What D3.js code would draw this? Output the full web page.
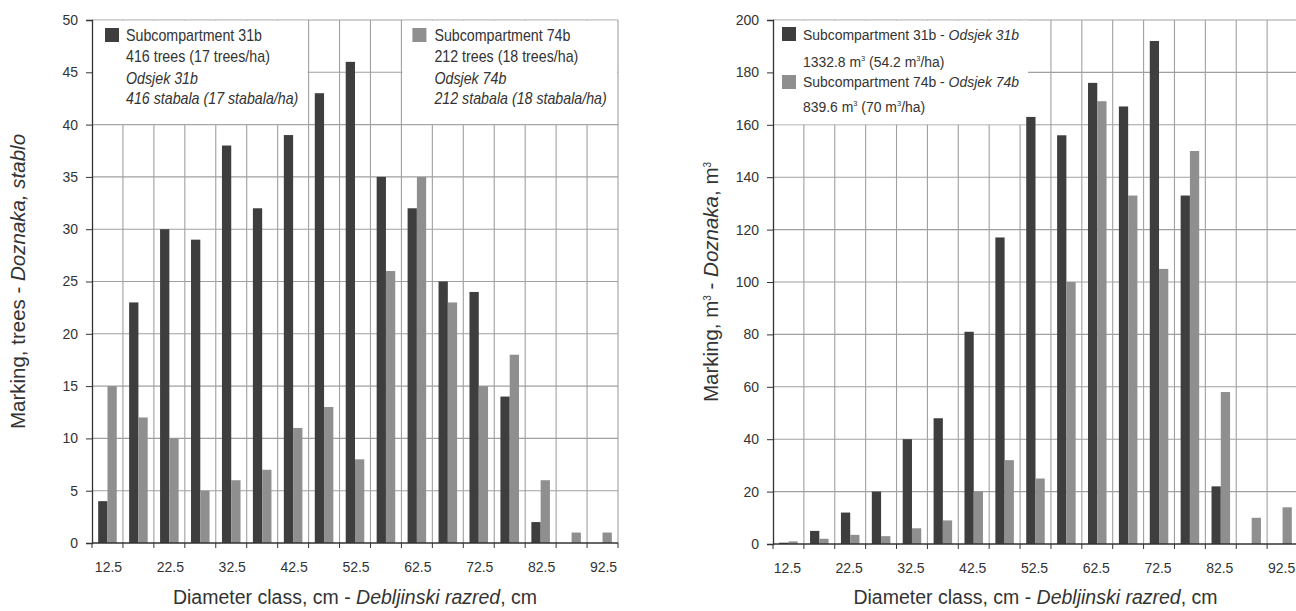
<!DOCTYPE html>
<html>
<head>
<meta charset="utf-8">
<script src="https://cdn.jsdelivr.net/npm/d3@7"></script>
<style>
  body { margin: 0; background: #fff; }
  text { font-family: "Liberation Sans", Arial, sans-serif; fill: #333; }
</style>
</head>
<body>
<div id="chart"></div>
<script>
// diameter classes (cm)
var classes = ["12.5","17.5","22.5","27.5","32.5","37.5","42.5","47.5","52.5","57.5","62.5","67.5","72.5","77.5","82.5","87.5","92.5"];
var series = ["31b", "74b"];

// number of trees marked
var trees31b = [4, 23, 30, 29, 38, 32, 39, 43, 46, 35, 32, 25, 24, 14, 2, 0, 0];
var trees74b = [15, 12, 10, 5, 6, 7, 11, 13, 8, 26, 35, 23, 15, 18, 6, 1, 1];

// volume marked (m3)
var vol31b = [0.5, 5, 12, 20, 40, 48, 81, 117, 163, 156, 176, 167, 192, 133, 22, 0, 0];
var vol74b = [1, 2, 3.5, 3, 6, 9, 20, 32, 25, 100, 169, 133, 105, 150, 58, 10, 14];

var treeTicks = [0, 5, 10, 15, 20, 25, 30, 35, 40, 45, 50];
var volTicks = [0, 20, 40, 60, 80, 100, 120, 140, 160, 180, 200];

var colors = { "31b": "#3e3e3e", "74b": "#8f8f8f" };

var width = 1296, height = 611;

var svg = d3.select("#chart").append("svg")
    .attr("width", width)
    .attr("height", height);

function drawPanel(opt) {
  var x0 = d3.scaleBand().domain(classes).range([opt.left, opt.right]);
  var x1 = d3.scaleBand().domain(series)
      .range([x0.bandwidth() * 0.2, x0.bandwidth() * 0.8]);
  var y = d3.scaleLinear().domain([0, opt.max]).range([opt.bottom, opt.top]);
  var step = x0.step();
  var bounds = d3.range(classes.length + 1).map(function(i) { return opt.left + i * step; });

  var g = svg.append("g");

  // grid
  g.selectAll("line.hgrid").data(opt.ticks.slice(1)).enter().append("line")
      .attr("class", "hgrid")
      .attr("x1", opt.left).attr("x2", opt.right)
      .attr("y1", function(d) { return y(d); }).attr("y2", function(d) { return y(d); })
      .attr("stroke", "#a0a0a0").attr("stroke-width", 1.1);
  g.selectAll("line.vgrid").data(bounds.slice(1)).enter().append("line")
      .attr("class", "vgrid")
      .attr("x1", function(d) { return d; }).attr("x2", function(d) { return d; })
      .attr("y1", opt.top).attr("y2", opt.bottom)
      .attr("stroke", "#a0a0a0").attr("stroke-width", 1.1);

  // legend boxes hide the grid behind them
  opt.legends.forEach(function(lg) {
    var lx = lg.from != null ? bounds[lg.from] + 1 : lg.x;
    var rx = lg.to != null ? bounds[lg.to] - 1 : lg.x2;
    g.append("rect")
        .attr("x", lx).attr("y", opt.top + 0.7)
        .attr("width", rx - lx).attr("height", y(lg.downTo) - opt.top - 1.2)
        .attr("fill", "#fff");
    lg.x0 = lx;
  });

  // bars
  var groups = g.selectAll("g.cls").data(classes).enter().append("g")
      .attr("transform", function(d) { return "translate(" + x0(d) + ",0)"; });
  groups.selectAll("rect").data(function(d, i) {
      return series.map(function(s) { return { s: s, v: opt.values[s][i] }; });
    }).enter().append("rect")
      .attr("x", function(d) { return x1(d.s); })
      .attr("width", x1.bandwidth())
      .attr("y", function(d) { return y(d.v); })
      .attr("height", function(d) { return opt.bottom - y(d.v); })
      .attr("fill", function(d) { return colors[d.s]; });

  // y axis
  var yAxis = d3.axisLeft(y).tickValues(opt.ticks).tickSize(6).tickPadding(8);
  var ya = g.append("g").attr("transform", "translate(" + opt.left + ",0)").call(yAxis);
  ya.select(".domain").attr("stroke", "#333").attr("stroke-width", 1.3);
  ya.selectAll(".tick line").attr("stroke", "#333");
  ya.selectAll("text").style("font-size", "14px").attr("fill", "#333")
      .style("font-family", "'Liberation Sans', Arial, sans-serif");

  // x axis
  g.append("line")
      .attr("x1", opt.left).attr("x2", opt.right)
      .attr("y1", opt.bottom).attr("y2", opt.bottom)
      .attr("stroke", "#333").attr("stroke-width", 1.3);
  g.selectAll("line.xtick").data(bounds).enter().append("line")
      .attr("x1", function(d) { return d; }).attr("x2", function(d) { return d; })
      .attr("y1", opt.bottom).attr("y2", opt.bottom + 5)
      .attr("stroke", "#333");
  g.selectAll("text.xlab").data(classes.filter(function(d, i) { return i % 2 === 0; }))
      .enter().append("text")
      .attr("x", function(d) { return x0(d) + step / 2 + opt.labelShift; })
      .attr("y", opt.bottom + 29)
      .attr("text-anchor", "middle")
      .style("font-size", "14px")
      .text(function(d) { return d; });

  // axis titles
  var xt = g.append("text")
      .attr("x", (opt.left + opt.right) / 2)
      .attr("y", 604)
      .attr("text-anchor", "middle")
      .style("font-size", "19.5px");
  xt.append("tspan").text("Diameter class, cm - ");
  xt.append("tspan").style("font-style", "italic").text("Debljinski razred");
  xt.append("tspan").text(", cm");

  var yt = g.append("text")
      .attr("transform", "translate(" + opt.ytitleX + "," + (opt.top + opt.bottom) / 2 + ") rotate(-90)")
      .attr("text-anchor", "middle")
      .style("font-size", "20.5px");
  opt.ytitle(yt);

  // legend entries
  opt.legends.forEach(function(lg) {
    lg.items.forEach(function(it) {
      g.append("rect")
          .attr("x", lg.x0 + lg.sw).attr("y", it.sy)
          .attr("width", 14).attr("height", 14)
          .attr("fill", colors[it.s]);
    });
    lg.lines.forEach(function(ln) {
      var t = g.append("text")
          .attr("transform", "translate(" + (lg.x0 + lg.tx) + "," + ln.y + ") scale(" + lg.sx + ",1)")
          .style("font-size", lg.fs + "px");
      ln.parts.forEach(function(p) {
        var ts = t.append("tspan").text(p.t);
        if (p.i) ts.style("font-style", "italic");
        if (p.sup) ts.attr("dy", -6).style("font-size", "8px");
        if (p.after) ts.attr("dy", 6);
      });
    });
  });
}

drawPanel({
  left: 92, right: 618, top: 20, bottom: 543, max: 50,
  ticks: treeTicks,
  values: { "31b": trees31b, "74b": trees74b },
  labelShift: 1,
  ytitleX: 25,
  ytitle: function(t) {
    t.append("tspan").text("Marking, trees - ");
    t.append("tspan").style("font-style", "italic").text("Doznaka, stablo");
  },
  legends: [
    { from: 0, to: 7, downTo: 40, sw: 12, tx: 33, fs: 16, sx: 0.89,
      items: [{ s: "31b", sy: 28 }],
      lines: [
        { y: 41, parts: [{ t: "Subcompartment 31b" }] },
        { y: 62, parts: [{ t: "416 trees (17 trees/ha)" }] },
        { y: 84, parts: [{ t: "Odsjek 31b", i: true }] },
        { y: 104, parts: [{ t: "416 stabala (17 stabala/ha)", i: true }] }
      ] },
    { from: 10, to: 17, downTo: 40, sw: 10, tx: 32, fs: 16, sx: 0.89,
      items: [{ s: "74b", sy: 28 }],
      lines: [
        { y: 41, parts: [{ t: "Subcompartment 74b" }] },
        { y: 62, parts: [{ t: "212 trees (18 trees/ha)" }] },
        { y: 84, parts: [{ t: "Odsjek 74b", i: true }] },
        { y: 104, parts: [{ t: "212 stabala (18 stabala/ha)", i: true }] }
      ] }
  ]
});

drawPanel({
  left: 773, right: 1298, top: 20, bottom: 544, max: 200,
  ticks: volTicks,
  values: { "31b": vol31b, "74b": vol74b },
  labelShift: -1,
  ytitleX: 718,
  ytitle: function(t) {
    t.append("tspan").text("Marking, m");
    t.append("tspan").attr("dy", -7).style("font-size", "10px").text("3");
    t.append("tspan").attr("dy", 7).text(" - ");
    t.append("tspan").style("font-style", "italic").text("Doznaka");
    t.append("tspan").text(", m");
    t.append("tspan").attr("dy", -7).style("font-size", "10px").text("3");
  },
  legends: [
    { x: 774, x2: 1028, downTo: 160, sw: 8, tx: 29, fs: 15, sx: 0.93,
      items: [{ s: "31b", sy: 27 }, { s: "74b", sy: 75 }],
      lines: [
        { y: 40, parts: [{ t: "Subcompartment 31b - " }, { t: "Odsjek 31b", i: true }] },
        { y: 67, parts: [{ t: "1332.8 m" }, { t: "3", sup: true }, { t: " (54.2 m", after: true }, { t: "3", sup: true }, { t: "/ha)", after: true }] },
        { y: 87, parts: [{ t: "Subcompartment 74b - " }, { t: "Odsjek 74b", i: true }] },
        { y: 112, parts: [{ t: "839.6 m" }, { t: "3", sup: true }, { t: " (70 m", after: true }, { t: "3", sup: true }, { t: "/ha)", after: true }] }
      ] }
  ]
});
</script>
</body>
</html>
